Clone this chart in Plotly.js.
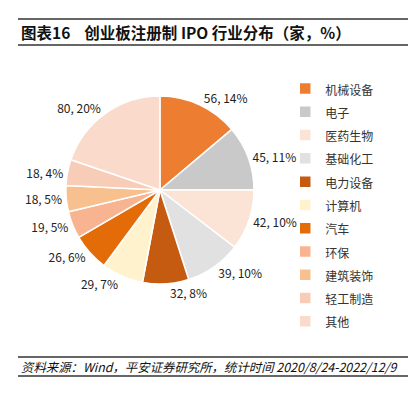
<!DOCTYPE html>
<html>
<head>
<meta charset="utf-8">
<script src="https://cdn.plot.ly/plotly-3.0.1.min.js"></script>
<style>html,body{margin:0;padding:0;background:#fff;}#chart{width:417px;height:395px;}</style>
</head>
<body>
<div id="chart"></div>
<script>
const categories = ['机械设备','电子','医药生物','基础化工','电力设备','计算机','汽车','环保','建筑装饰','轻工制造','其他'];
const counts = [56, 45, 42, 39, 32, 29, 26, 19, 18, 18, 80];
const percentLabels = ['14%','11%','10%','10%','8%','7%','6%','5%','5%','4%','20%'];
const sliceColors = ['#ED7D31','#C9C9C9','#FBE4D5','#E1E1E1','#C55A11','#FFF2CC','#E36C09','#F8B491','#F9C08F','#F8CDB8','#FADBCB'];

const titleText = '<b>图表16    创业板注册制 IPO 行业分布（家，%）</b>';
const sourceText = '<i>资料来源：Wind，平安证券研究所，统计时间 2020/8/24-2022/12/9</i>';

const FONT = '"Noto Sans CJK SC", "Noto Sans", sans-serif';

// legend entries use a larger line height (legend font) with 12px visible text
const legendLabels = categories.map(c => '<span style="font-size:12px">' + c + '</span>');

const trace = {
  type: 'pie',
  labels: legendLabels,
  values: counts,
  text: percentLabels,
  texttemplate: '%{value}, %{text}',
  textposition: 'outside',
  textfont: {family: FONT, size: 12, color: '#222'},
  sort: false,
  direction: 'clockwise',
  rotation: 0,
  marker: {colors: sliceColors, line: {color: '#fff', width: 1.5}},
  domain: {x: [0.158, 0.609], y: [0.281, 0.757]},
  hoverinfo: 'none'
};

const lineColor = '#333';
const layout = {
  width: 417, height: 395,
  margin: {l: 0, r: 0, t: 0, b: 0},
  paper_bgcolor: '#fff',
  showlegend: true,
  legend: {
    x: 0.684, y: 0.818, xanchor: 'left', yanchor: 'top',
    font: {family: FONT, size: 15.6, color: '#333'},
    bgcolor: 'rgba(0,0,0,0)'
  },
  annotations: [
    {text: titleText, xref: 'paper', yref: 'paper', x: 0.045, y: 1 - 32/395, xanchor: 'left', yanchor: 'middle', showarrow: false, font: {family: FONT, size: 15.5, color: '#111'}},
    {text: sourceText, xref: 'paper', yref: 'paper', x: 0.045, y: 1 - 367/395, xanchor: 'left', yanchor: 'middle', showarrow: false, font: {family: FONT, size: 12.4, color: '#111'}}
  ],
  shapes: [
    {type: 'line', xref: 'paper', yref: 'paper', x0: 18/417, x1: 408/417, y0: 1 - 19/395, y1: 1 - 19/395, line: {color: lineColor, width: 1.5}},
    {type: 'line', xref: 'paper', yref: 'paper', x0: 18/417, x1: 408/417, y0: 1 - 45/395, y1: 1 - 45/395, line: {color: lineColor, width: 1.5}},
    {type: 'line', xref: 'paper', yref: 'paper', x0: 18/417, x1: 408/417, y0: 1 - 357/395, y1: 1 - 357/395, line: {color: lineColor, width: 1.5}},
    {type: 'line', xref: 'paper', yref: 'paper', x0: 18/417, x1: 408/417, y0: 1 - 376/395, y1: 1 - 376/395, line: {color: lineColor, width: 1.5}}
  ]
};

Plotly.newPlot('chart', [trace], layout, {displayModeBar: false, staticPlot: true});
</script>
</body>
</html>
